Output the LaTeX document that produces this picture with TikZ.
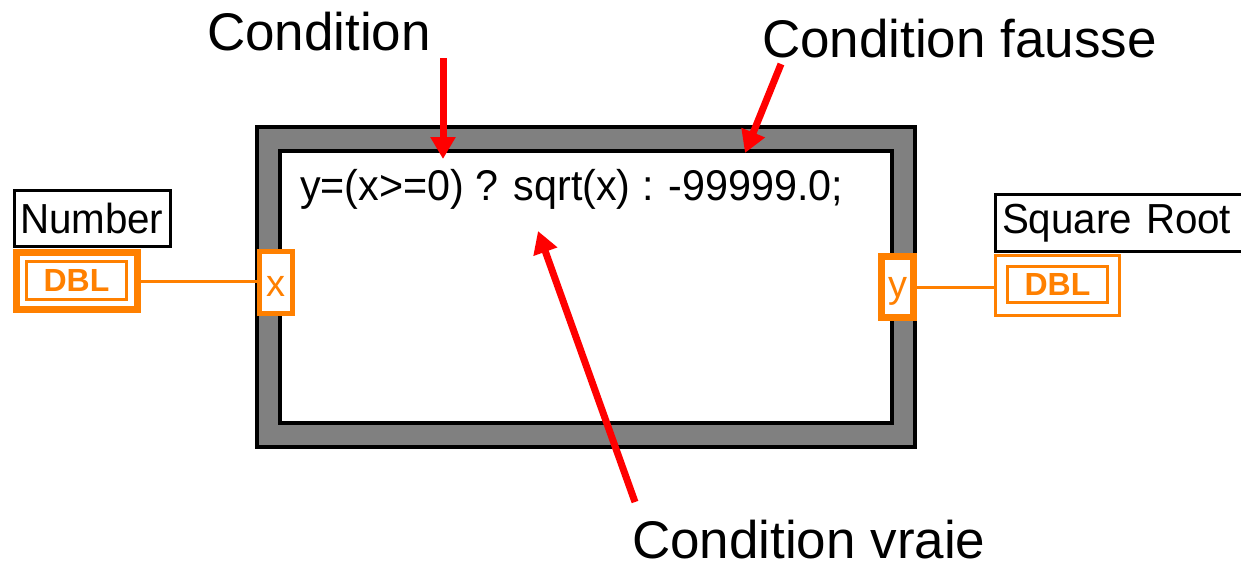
\documentclass[tikz,border=0pt]{standalone}
\usepackage{fontspec}
\setmainfont{Liberation Sans}
\newfontfamily\pixfont[FakeStretch=0.96]{Liberation Sans}
\usepackage{tikz}
\usetikzlibrary{positioning,arrows.meta}
\definecolor{LVOrange}{HTML}{FF8000}
\definecolor{LVFrame}{HTML}{808080}
\definecolor{LVRed}{HTML}{FF0000}

\begin{document}
\begin{tikzpicture}[x=0.5pt,y=-0.5pt,
  every node/.style={inner sep=0pt,outer sep=0pt},
  callout/.style={font=\fontsize{26.5}{30}\selectfont,anchor=base west},
  pointer/.style={draw=LVRed,line width=3.5pt,-{Triangle[width=12pt,length=11pt]}},
  wire/.style={draw=LVOrange,line width=1.5pt},
  lvlabel/.style={draw,line width=1.5pt,fill=white,anchor=west,align=left,
    font=\pixfont\fontsize{21}{22}\selectfont},
  dblbox/.style={draw=LVOrange,fill=white},
  dbltag/.style={draw=LVOrange,line width=1.5pt,minimum width=50pt,
    text=LVOrange,font=\bfseries\fontsize{16}{16}\selectfont},
  termtext/.style={text=LVOrange,font=\fontsize{19}{20}\selectfont}]
  \useasboundingbox (0,0) rectangle (1241,564);

  % formula node frame
  \draw[fill=LVFrame,line width=2pt] (257,126.5) rectangle (915,446.5);
  \draw[fill=white,line width=2pt] (280,150.5) rectangle (892,422.5);
  \node[anchor=base west,font=\pixfont\fontsize{21.5}{24}\selectfont] (code) at (300,200)
    {y=(x>=0) ? sqrt(x) : -99999.0;};

  % input terminal
  \node[lvlabel,inner xsep=2.75pt,text width=72.5pt,minimum height=28pt] (numlbl) at (14.5,218.5) {Number};
  \node[dblbox,line width=3.5pt,minimum width=60.5pt,minimum height=28.5pt] (numctl) at (77,281) {};
  \node[dbltag,minimum height=19pt] (numtype) at (76.5,280.5) {DBL};
  \node[dblbox,line width=2.5pt,minimum width=16.5pt,minimum height=31pt] (xport) at (276,282.5) {};
  \node[termtext] (xname) at (276,286) {x};

  % output terminal
  \node[dblbox,line width=3.5pt,minimum width=16pt,minimum height=30.5pt] (yport) at (897.5,287) {};
  \node[termtext] (yname) at (897.5,291) {y};
  \node[lvlabel,inner xsep=3.25pt,text width=140pt,minimum height=28.5pt] (reslbl) at (995.5,223) {Square Root};
  \node[dblbox,line width=1.5pt,minimum width=62pt,minimum height=30pt] (resctl) at (1057.5,285.5) {};
  \node[dbltag,minimum height=18pt] (restype) at (1057.5,284.5) {DBL};

  \draw[wire] (numctl.east) -- (numctl.east -| xport.west);
  \draw[wire] (yport.east) -- (yport.east -| resctl.west);

  % callouts
  \node[callout] (condlbl) at (207,50) {Condition};
  \node[callout] (falselbl) at (762,57) {Condition fausse};
  \node[callout,text depth=0pt] (truelbl) at (632,558) {Condition vraie};

  \coordinate (condtail) at (443,58);
  \coordinate (condtip) at (443,159);
  \coordinate (falsetail) at (781,64);
  \coordinate (falsetip) at (745,153);
  \coordinate (truetail) at (635,502);
  \coordinate (truetip) at (538,231);

  \draw[pointer] (condtail) -- (condtip);
  \draw[pointer] (falsetail) -- (falsetip);
  \draw[pointer] (truetail) -- (truetip);
\end{tikzpicture}
\end{document}
